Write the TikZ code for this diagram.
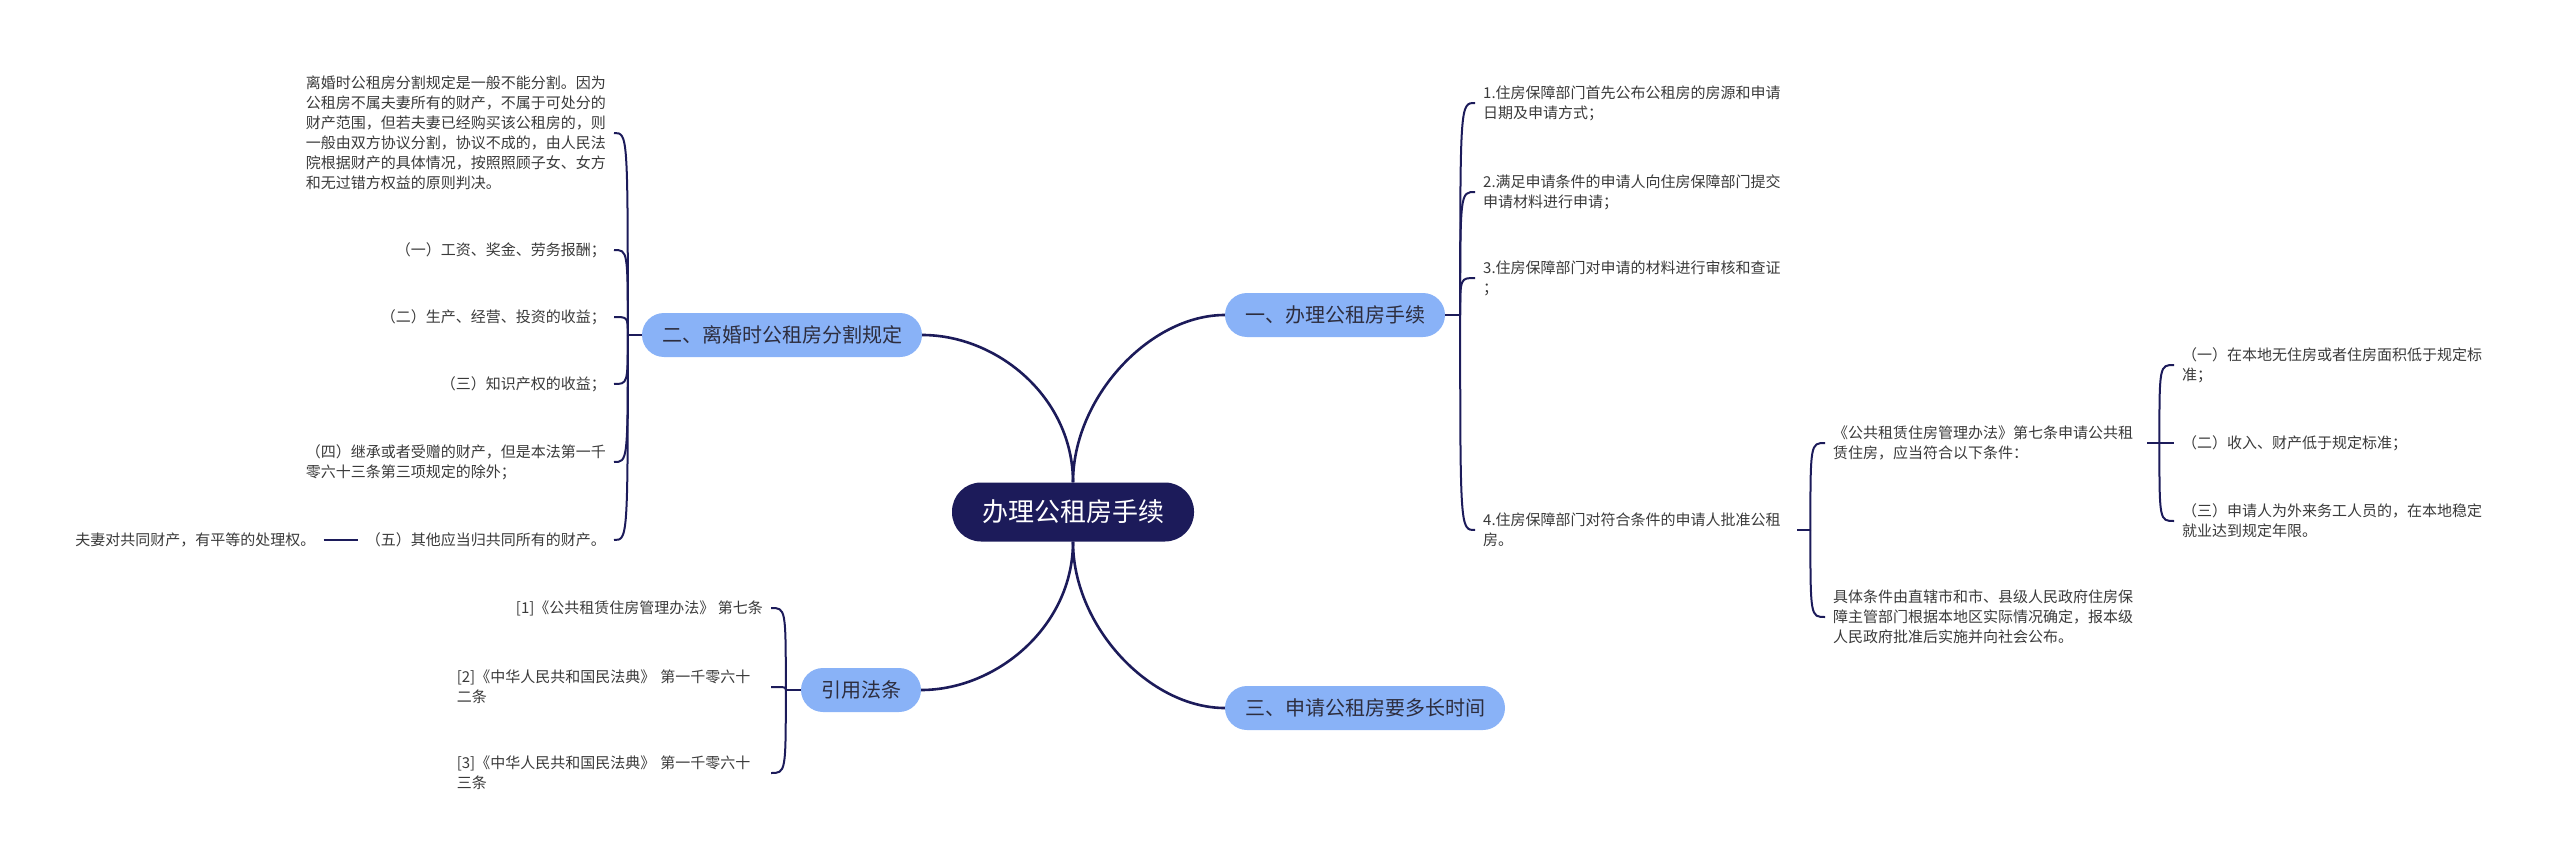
\documentclass[tikz,border=0pt]{standalone}
\usepackage{fontspec}
\setmainfont{Noto Sans CJK SC}
\definecolor{mmnavy}{RGB}{28,27,90}
\definecolor{mmblue}{RGB}{137,178,247}
\definecolor{mmtopic}{RGB}{45,45,62}
\definecolor{mmleaf}{RGB}{58,58,58}
\usetikzlibrary{positioning}

\begin{document}
\begin{tikzpicture}[x=1pt, y=-1pt,
    rootbox/.style={rectangle, rounded corners=29pt, fill=mmnavy, text=white,
      minimum height=59pt, inner xsep=30pt, font=\fontsize{26pt}{30pt}\selectfont},
    topicbox/.style={rectangle, rounded corners=22pt, fill=mmblue, text=mmtopic,
      minimum height=44pt, inner xsep=20pt, font=\fontsize{20pt}{24pt}\selectfont},
    leafbox/.style={align=left, inner xsep=8pt, inner ysep=2pt, text=mmleaf,
      font=\fontsize{15pt}{20pt}\selectfont},
    wrapbox/.style={leafbox, text width=306pt},
    trunk/.style={draw=mmnavy, line width=2.6pt},
    twig/.style={draw=mmnavy, line width=2pt}
  ]
    \useasboundingbox (0,0) rectangle (2560,864);

    % Root and main topics
    \node[rootbox]  (ctr) at (1073,512) {办理公租房手续};
    \node[topicbox] (b1)  at (1335,315) {一、办理公租房手续};
    \node[topicbox] (b2)  at (782,335)  {二、离婚时公租房分割规定};
    \node[topicbox] (b3)  at (1365,708) {三、申请公租房要多长时间};
    \node[topicbox] (b4)  at (861,690)  {引用法条};

    \draw[trunk] (ctr.north) .. controls +(0,-85) and +(-75,0) .. (b1.west);
    \draw[trunk] (ctr.north) .. controls +(0,-85) and +(75,0) .. (b2.east);
    \draw[trunk] (ctr.south) .. controls +(0,85) and +(-75,0) .. (b3.west);
    \draw[trunk] (ctr.south) .. controls +(0,85) and +(75,0) .. (b4.east);

    % Topic one: steps
    \node[wrapbox, anchor=west] (a1) at (1475,103) {1.住房保障部门首先公布公租房的房源和申请\\日期及申请方式；};
    \node[wrapbox, anchor=west] (a2) at (1475,192) {2.满足申请条件的申请人向住房保障部门提交\\申请材料进行申请；};
    \node[wrapbox, anchor=west] (a3) at (1475,278) {3.住房保障部门对申请的材料进行审核和查证\\；};
    \node[wrapbox, anchor=west] (a4) at (1475,530) {4.住房保障部门对符合条件的申请人批准公租\\房。};
    \coordinate[right=15pt of b1] (j1);
    \draw[twig] (b1.east) -- (j1);
    \draw[twig] (j1) .. controls (j1 |- a1.west) .. (a1.west);
    \draw[twig] (j1) .. controls (j1 |- a2.west) .. (a2.west);
    \draw[twig] (j1) .. controls (j1 |- a3.west) .. (a3.west);
    \draw[twig] (j1) .. controls (j1 |- a4.west) .. (a4.west);

    \node[wrapbox, anchor=west] (c1) at (1825,443) {《公共租赁住房管理办法》第七条申请公共租\\赁住房，应当符合以下条件：};
    \node[wrapbox, anchor=west] (c2) at (1825,617) {具体条件由直辖市和市、县级人民政府住房保\\障主管部门根据本地区实际情况确定，报本级\\人民政府批准后实施并向社会公布。};
    \coordinate[right=13pt of a4] (j4);
    \draw[twig] (a4.east) -- (j4);
    \draw[twig] (j4) .. controls (j4 |- c1.west) .. (c1.west);
    \draw[twig] (j4) .. controls (j4 |- c2.west) .. (c2.west);

    \node[wrapbox, anchor=west] (d1) at (2174,365) {（一）在本地无住房或者住房面积低于规定标\\准；};
    \node[leafbox, anchor=west] (d2) at (2174,443) {（二）收入、财产低于规定标准；};
    \node[wrapbox, anchor=west] (d3) at (2174,521) {（三）申请人为外来务工人员的，在本地稳定\\就业达到规定年限。};
    \coordinate[right=12pt of c1] (j5);
    \draw[twig] (c1.east) -- (j5);
    \draw[twig] (j5) .. controls (j5 |- d1.west) .. (d1.west);
    \draw[twig] (j5) -- (d2.west);
    \draw[twig] (j5) .. controls (j5 |- d3.west) .. (d3.west);

    % Topic two: division on divorce
    \node[leafbox, anchor=east] (e0) at (614,133) {离婚时公租房分割规定是一般不能分割。因为\\公租房不属夫妻所有的财产，不属于可处分的\\财产范围，但若夫妻已经购买该公租房的，则\\一般由双方协议分割，协议不成的，由人民法\\院根据财产的具体情况，按照照顾子女、女方\\和无过错方权益的原则判决。};
    \node[leafbox, anchor=east] (e1) at (614,250) {（一）工资、奖金、劳务报酬；};
    \node[leafbox, anchor=east] (e2) at (614,317) {（二）生产、经营、投资的收益；};
    \node[leafbox, anchor=east] (e3) at (614,384) {（三）知识产权的收益；};
    \node[leafbox, anchor=east] (e4) at (614,462) {（四）继承或者受赠的财产，但是本法第一千\\零六十三条第三项规定的除外；};
    \node[leafbox, anchor=east] (e5) at (614,540) {（五）其他应当归共同所有的财产。};
    \node[leafbox, left=34pt of e5] (e6) {夫妻对共同财产，有平等的处理权。};
    \coordinate[left=14pt of b2] (j2);
    \draw[twig] (b2.west) -- (j2);
    \draw[twig] (j2) .. controls (j2 |- e0.east) .. (e0.east);
    \draw[twig] (j2) .. controls (j2 |- e1.east) .. (e1.east);
    \draw[twig] (j2) .. controls (j2 |- e2.east) .. (e2.east);
    \draw[twig] (j2) .. controls (j2 |- e3.east) .. (e3.east);
    \draw[twig] (j2) .. controls (j2 |- e4.east) .. (e4.east);
    \draw[twig] (j2) .. controls (j2 |- e5.east) .. (e5.east);
    \draw[twig] (e6.east) -- (e5.west);

    % Cited articles
    \node[leafbox, anchor=east] (f1) at (771,608) {[1]《公共租赁住房管理办法》 第七条};
    \node[wrapbox, anchor=east] (f2) at (771,687) {[2]《中华人民共和国民法典》 第一千零六十\\二条};
    \node[wrapbox, anchor=east] (f3) at (771,773) {[3]《中华人民共和国民法典》 第一千零六十\\三条};
    \coordinate[left=15pt of b4] (j3);
    \draw[twig] (b4.west) -- (j3);
    \draw[twig] (j3) .. controls (j3 |- f1.east) .. (f1.east);
    \draw[twig] (j3) .. controls (j3 |- f2.east) .. (f2.east);
    \draw[twig] (j3) .. controls (j3 |- f3.east) .. (f3.east);
  \end{tikzpicture}
\end{document}
